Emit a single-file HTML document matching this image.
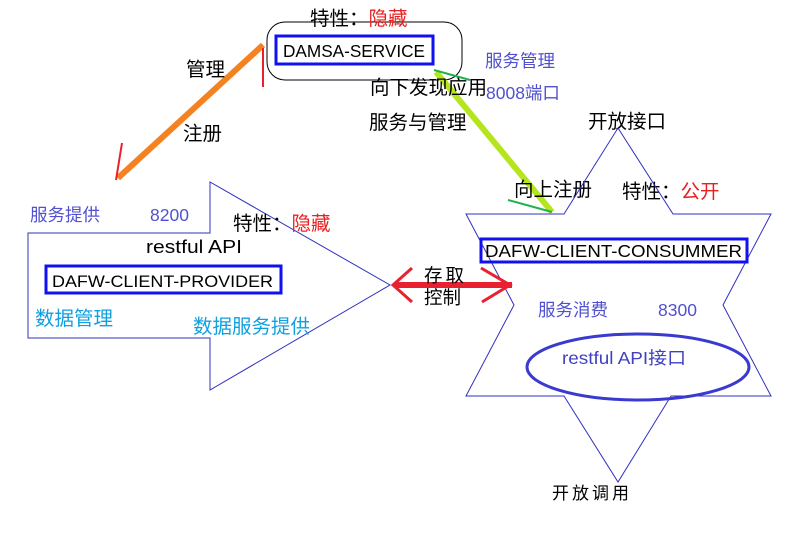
<!DOCTYPE html>
<html><head><meta charset="utf-8"><style>
body{margin:0;width:800px;height:550px;background:#fff;overflow:hidden}
svg text{font-family:"Liberation Sans","Noto Sans CJK SC",sans-serif}
</style></head><body>
<svg width="800" height="550" xmlns="http://www.w3.org/2000/svg">
<rect x="267" y="22" width="195" height="58" rx="18" fill="none" stroke="#000" stroke-width="1"/>
<rect x="276" y="36" width="157" height="28" fill="none" stroke="#1010f0" stroke-width="3"/>
<text x="283" y="57" font-size="17.5" fill="#000" textLength="142" lengthAdjust="spacingAndGlyphs">DAMSA-SERVICE</text>
<text x="310" y="25" font-size="19.5" fill="#000">特性：<tspan fill="#e82020">隐藏</tspan></text>
<line x1="263" y1="45" x2="118" y2="178" stroke="#f58220" stroke-width="6"/>
<line x1="263" y1="48" x2="263" y2="87" stroke="#e82030" stroke-width="2"/>
<line x1="122" y1="143" x2="116" y2="180" stroke="#e82030" stroke-width="2"/>
<text x="186" y="76" font-size="19.5">管理</text>
<text x="183" y="140" font-size="19.5">注册</text>
<line x1="436" y1="72" x2="552" y2="212" stroke="#b5e61d" stroke-width="6"/>
<line x1="434" y1="70" x2="470" y2="80" stroke="#22b14c" stroke-width="2"/>
<line x1="508" y1="200" x2="552" y2="212" stroke="#22b14c" stroke-width="2"/>
<text x="370" y="94" font-size="19.5">向下发现应用</text>
<text x="369" y="129" font-size="19.5">服务与管理</text>
<text x="485" y="67" font-size="17.5" fill="#5050d0">服务管理</text>
<text x="486" y="99" font-size="17.5" fill="#5050d0">8008端口</text>
<text x="588" y="128" font-size="19.5">开放接口</text>
<text x="514" y="196" font-size="19.5">向上注册</text>
<text x="622" y="198" font-size="19.5">特性：<tspan fill="#e82020">公开</tspan></text>
<polygon points="28,233 210,233 210,182 390,285 210,390 210,338 28,338" fill="none" stroke="#3030c0" stroke-width="1"/>
<text x="30" y="221" font-size="17.5" fill="#5050d0">服务提供</text>
<text x="150" y="221" font-size="17.5" fill="#5050d0">8200</text>
<text x="233" y="230" font-size="19.5">特性：<tspan fill="#e82020">隐藏</tspan></text>
<text x="146" y="253" font-size="18.5" textLength="96" lengthAdjust="spacingAndGlyphs">restful API</text>
<rect x="46" y="266" width="235" height="27" fill="none" stroke="#1010f0" stroke-width="3"/>
<text x="52" y="287" font-size="17" textLength="221" lengthAdjust="spacingAndGlyphs">DAFW-CLIENT-PROVIDER</text>
<text x="35" y="325" font-size="19.5" fill="#10a0e0">数据管理</text>
<text x="193" y="333" font-size="19.5" fill="#10a0e0">数据服务提供</text>
<polygon points="618,128 673,214 771,214 723,305 771,396 671,396 618,482 564,396 466,396 514,305 466,214 564,214" fill="none" stroke="#3030c0" stroke-width="1"/>
<rect x="481" y="239" width="266" height="23" fill="none" stroke="#1010f0" stroke-width="3"/>
<text x="485" y="257" font-size="17.5" textLength="257" lengthAdjust="spacingAndGlyphs">DAFW-CLIENT-CONSUMMER</text>
<text x="538" y="316" font-size="17.5" fill="#5050d0">服务消费</text>
<text x="658" y="316" font-size="17.5" fill="#5050d0">8300</text>
<ellipse cx="638" cy="367" rx="111" ry="33" fill="none" stroke="#3a3ad0" stroke-width="3"/>
<text x="562" y="364" font-size="17.5" fill="#4040c0" textLength="124" lengthAdjust="spacingAndGlyphs">restful API接口</text>
<text x="552" y="499" font-size="17" letter-spacing="3">开放调用</text>
<line x1="394" y1="285" x2="512" y2="285" stroke="#e82030" stroke-width="6"/>
<polyline points="412,268 393,285 412,302" fill="none" stroke="#e82030" stroke-width="3"/>
<polyline points="481,268 510,285 482,302" fill="none" stroke="#e82030" stroke-width="3"/>
<text x="424" y="282" font-size="18.5" letter-spacing="3">存取</text>
<text x="424" y="304" font-size="18.5">控制</text>
</svg>
</body></html>
